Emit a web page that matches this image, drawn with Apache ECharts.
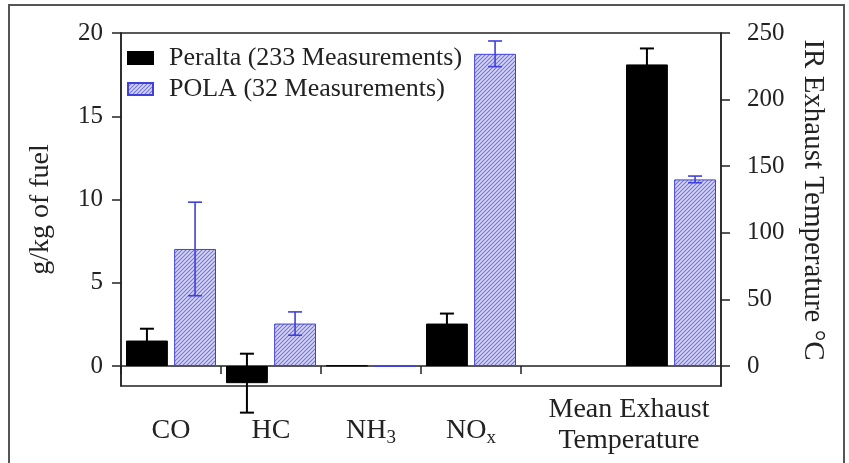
<!DOCTYPE html>
<html><head><meta charset="utf-8">
<script src="https://cdn.jsdelivr.net/npm/echarts@6/dist/echarts.min.js"></script>
<style>html,body{margin:0;padding:0;background:#fff}#c{width:849px;height:463px}</style>
</head><body><div id="c"></div>
<script>
const categories = ['CO', 'HC', 'NH3', 'NOx', '', 'Mean Exhaust Temperature'];
const peraltaEmis = [1.53, -1.03, 0.03, 2.55, null, null];
const peraltaEmisErr = [0.71, 1.77, null, 0.6, null, null];
const polaEmis = [7.03, 2.55, -0.03, 18.75, null, null];
const polaEmisErr = [2.81, 0.70, null, 0.77, null, null];
const peraltaTemp = [null, null, null, null, null, 226.4];
const peraltaTempErr = [null, null, null, null, null, 12];
const polaTemp = [null, null, null, null, null, 140.1];
const polaTempErr = [null, null, null, null, null, 2.5];
const leftTicks = [0, 5, 10, 15, 20];
const rightTicks = [0, 50, 100, 150, 200, 250];
const boundaryTicks = [0, 1, 2, 3, 4];
const seriesNames = ['Peralta (233 Measurements)', 'POLA (32 Measurements)'];
const leftName = 'g/kg of fuel';
const rightName = 'IR Exhaust Temperature °C';

const FONT = 'Liberation Serif';
const BLUE = '#4040dc';

function hatch() {
  const n = 4;
  const c = document.createElement('canvas');
  c.width = n; c.height = n;
  const g = c.getContext('2d');
  g.fillStyle = '#d6d6f6'; g.fillRect(0, 0, n, n);
  g.strokeStyle = '#7474d8'; g.lineWidth = 1.1;
  g.beginPath();
  g.moveTo(-1, n + 1); g.lineTo(n + 1, -1);
  g.moveTo(-1, 1); g.lineTo(1, -1);
  g.moveTo(n - 1, n + 1); g.lineTo(n + 1, n - 1);
  g.stroke();
  return c;
}
const hatchFill = { image: hatch(), repeat: 'repeat' };

function errData(vals, errs) {
  const out = [];
  vals.forEach((v, i) => { if (v != null && errs[i] != null) out.push([i, v, errs[i]]); });
  return out;
}
function errRender(sign, color, lw) {
  return function (params, api) {
    const x = api.value(0), v = api.value(1), e = api.value(2);
    const band = api.size([1, 0])[0];
    const off = sign * band * 0.2407;
    const hi = api.coord([x, v + e]);
    const lo = api.coord([x, v - e]);
    const cx = hi[0] + off, cap = 7;
    const st = { stroke: color, lineWidth: lw };
    return { type: 'group', children: [
      { type: 'line', shape: { x1: cx, y1: hi[1], x2: cx, y2: lo[1] }, style: st },
      { type: 'line', shape: { x1: cx - cap, y1: hi[1], x2: cx + cap, y2: hi[1] }, style: st },
      { type: 'line', shape: { x1: cx - cap, y1: lo[1], x2: cx + cap, y2: lo[1] }, style: st }
    ]};
  };
}

const labelMap = {
  'CO': '{a|CO}', 'HC': '{a|HC}', 'NH3': '{a|NH}{s|3}', 'NOx': '{a|NO}{s|x}', '': '',
  'Mean Exhaust Temperature': '{m|Mean Exhaust}\n{m|Temperature}'
};

const chart = echarts.init(document.getElementById('c'), null, { renderer: 'canvas' });
const blackStyle = { color: '#000', borderColor: '#000', borderWidth: 1 };
const blueStyle = { color: hatchFill, borderColor: BLUE, borderWidth: 1 };
chart.setOption({
  backgroundColor: '#fff',
  animation: false,
  textStyle: { fontFamily: FONT, color: '#222' },
  graphic: [{ type: 'rect', shape: { x: 9, y: 5, width: 835, height: 480 }, style: { fill: 'none', stroke: '#555', lineWidth: 2 }, z: 100 }],
  grid: { left: 121, right: 128, top: 33, bottom: 77, show: true, borderColor: '#222', borderWidth: 1.5, containLabel: false, outerBoundsMode: 'none' },
  legend: {
    data: seriesNames, orient: 'vertical', left: 127, top: 45, itemGap: 5, padding: 0,
    itemWidth: 25, itemHeight: 12, icon: 'rect',
    textStyle: { fontFamily: FONT, fontSize: 26, color: '#222', padding: [0, 0, 0, 11] }
  },
  xAxis: [{
    type: 'category', data: categories, position: 'bottom',
    axisLine: { show: true, lineStyle: { color: '#222', width: 1.5 } },
    axisTick: { show: false },
    axisLabel: {
      interval: 0, margin: 6, color: '#222', fontFamily: FONT, fontSize: 28,
      formatter: v => labelMap[v],
      rich: {
        a: { fontFamily: FONT, fontSize: 28, lineHeight: 30, padding: [48, 0, 0, 0], color: '#222' },
        s: { fontFamily: FONT, fontSize: 19, lineHeight: 30, padding: [62, 0, 0, 0], color: '#222' },
        m: { fontFamily: FONT, fontSize: 28, lineHeight: 31, padding: [4, 84, 0, 0], color: '#222' }
      }
    },
    splitLine: { show: false }
  }, {
    type: 'value', min: 0, max: 6, position: 'bottom',
    axisLine: { show: false },
    axisTick: { show: true, length: 8, customValues: boundaryTicks, lineStyle: { color: '#222', width: 1.5 } },
    axisLabel: { show: false }, splitLine: { show: false }
  }],
  yAxis: [{
    type: 'value', min: -1.2, max: 20, position: 'left',
    name: leftName, nameLocation: 'middle', nameGap: 66,
    nameTextStyle: { fontFamily: FONT, fontSize: 28, color: '#222' },
    axisLine: { show: true, lineStyle: { color: '#222', width: 1.5 } },
    axisTick: { show: true, length: 9, customValues: leftTicks, lineStyle: { color: '#222', width: 1.5 } },
    axisLabel: { customValues: leftTicks, margin: 18, fontFamily: FONT, fontSize: 25, color: '#222' },
    splitLine: { show: false }
  }, {
    type: 'value', min: -15, max: 250, position: 'right',
    name: rightName, nameLocation: 'middle', nameGap: 77, nameRotate: -90,
    nameTextStyle: { fontFamily: FONT, fontSize: 29, color: '#222', padding: [0, 19, 0, 0] },
    axisLine: { show: true, lineStyle: { color: '#222', width: 1.5 } },
    axisTick: { show: true, length: 9, customValues: rightTicks, lineStyle: { color: '#222', width: 1.5 } },
    axisLabel: { customValues: rightTicks, margin: 26, fontFamily: FONT, fontSize: 25, color: '#222' },
    splitLine: { show: false }
  }],
  series: [
    { name: seriesNames[0], type: 'bar', stack: 'p', yAxisIndex: 0, data: peraltaEmis, itemStyle: blackStyle, barGap: '15%', barCategoryGap: '10%' },
    { name: seriesNames[1], type: 'bar', stack: 'q', yAxisIndex: 0, data: polaEmis, itemStyle: blueStyle, barGap: '15%', barCategoryGap: '10%' },
    { name: seriesNames[0], type: 'bar', stack: 'p', yAxisIndex: 1, data: peraltaTemp, itemStyle: blackStyle },
    { name: seriesNames[1], type: 'bar', stack: 'q', yAxisIndex: 1, data: polaTemp, itemStyle: blueStyle },
    { type: 'custom', yAxisIndex: 0, clip: false, z: 5, data: errData(peraltaEmis, peraltaEmisErr), encode: { x: 0, y: 1 }, renderItem: errRender(-1, '#000', 2) },
    { type: 'custom', yAxisIndex: 0, clip: false, z: 5, data: errData(polaEmis, polaEmisErr), encode: { x: 0, y: 1 }, renderItem: errRender(1, BLUE, 1.6) },
    { type: 'custom', yAxisIndex: 1, clip: false, z: 5, data: errData(peraltaTemp, peraltaTempErr), encode: { x: 0, y: 1 }, renderItem: errRender(-1, '#000', 2) },
    { type: 'custom', yAxisIndex: 1, clip: false, z: 5, data: errData(polaTemp, polaTempErr), encode: { x: 0, y: 1 }, renderItem: errRender(1, BLUE, 1.6) }
  ]
});
</script>
</body></html>
